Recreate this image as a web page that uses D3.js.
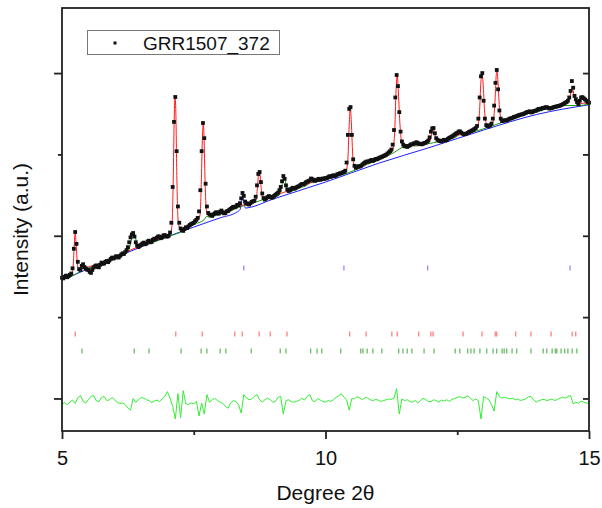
<!DOCTYPE html>
<html>
<head>
<meta charset="utf-8">
<script src="https://cdn.jsdelivr.net/npm/d3@7"></script>
<style>
  body { margin: 0; background: #fff; }
  svg text { font-family: "Liberation Sans", Arial, sans-serif; fill: #111; }
</style>
</head>
<body>
<div id="chart"></div>
<script>
// observed pattern on a regular 2theta grid (start, step)
var obsStart = 5, obsStep = 0.025;
var obsI = [
  // 5.0 - 5.475
  742, 738, 748, 755, 745, 752, 760, 768, 800, 920, 1023, 950, 840, 795, 790, 815, 825, 808, 800, 792,
  // 5.5
  790, 778, 772, 790, 805, 812, 818, 808, 806, 822, 835, 828, 830, 840, 845, 838, 848, 858, 866, 860,
  // 6.0
  865, 874, 872, 866, 876, 885, 892, 888, 900, 912, 930, 960, 990, 1008, 1017, 995, 960, 940, 930, 938,
  // 6.5
  945, 952, 958, 948, 952, 965, 970, 960, 962, 975, 982, 978, 988, 996, 995, 985, 990, 1002, 1004, 996,
  // 7.0
  995, 1000, 1020, 1080, 1300, 1700, 1853, 1520, 1180, 1080, 1045, 1035, 1030, 1042, 1052, 1048, 1058, 1066, 1072, 1076,
  // 7.5
  1080, 1090, 1098, 1110, 1150, 1280, 1520, 1693, 1600, 1320, 1180, 1140, 1130, 1128, 1122, 1132, 1138, 1145, 1140, 1136,
  // 8.0
  1148, 1155, 1145, 1138, 1140, 1150, 1152, 1160, 1165, 1172, 1178, 1175, 1180, 1190, 1188, 1200, 1230, 1263, 1245, 1210,
  // 8.5
  1200, 1196, 1192, 1200, 1208, 1212, 1215, 1240, 1310, 1380, 1392, 1330, 1260, 1232, 1222, 1230, 1238, 1244, 1240, 1234,
  // 9.0
  1236, 1245, 1252, 1258, 1265, 1280, 1300, 1335, 1367, 1350, 1310, 1285, 1275, 1280, 1288, 1295, 1290, 1292, 1298, 1302,
  // 9.5
  1305, 1312, 1318, 1316, 1320, 1328, 1332, 1336, 1340, 1352, 1348, 1342, 1338, 1342, 1346, 1350, 1344, 1348, 1352, 1350,
  // 10.0
  1355, 1352, 1360, 1366, 1362, 1368, 1372, 1368, 1370, 1378, 1380, 1384, 1385, 1390, 1392, 1400, 1450, 1620, 1780, 1791,
  // 10.5
  1620, 1470, 1430, 1418, 1422, 1428, 1425, 1430, 1438, 1445, 1450, 1456, 1455, 1458, 1462, 1466, 1460, 1465, 1472, 1470,
  // 11.0
  1475, 1480, 1482, 1486, 1490, 1494, 1498, 1505, 1512, 1520, 1530, 1560, 1650, 1850, 1988, 1920, 1760, 1640, 1580, 1560,
  // 11.5
  1550, 1552, 1546, 1552, 1556, 1562, 1562, 1568, 1568, 1575, 1570, 1564, 1566, 1562, 1565, 1570, 1572, 1578, 1585, 1605,
  // 12.0
  1640, 1660, 1662, 1630, 1600, 1590, 1585, 1582, 1580, 1585, 1590, 1586, 1588, 1596, 1602, 1606, 1610, 1616, 1622, 1628,
  // 12.5
  1632, 1640, 1642, 1634, 1628, 1624, 1625, 1628, 1632, 1638, 1642, 1646, 1650, 1656, 1662, 1675, 1720, 1850, 1980, 2000,
  // 13.0
  1830, 1720, 1680, 1674, 1672, 1680, 1690, 1720, 1800, 1940, 2019, 1900, 1770, 1720, 1705, 1708, 1710, 1708, 1712, 1716,
  // 13.5
  1720, 1722, 1725, 1730, 1732, 1735, 1738, 1742, 1744, 1746, 1748, 1752, 1756, 1760, 1762, 1765, 1758, 1760, 1766, 1768,
  // 14.0
  1770, 1776, 1780, 1778, 1782, 1786, 1786, 1790, 1790, 1786, 1782, 1784, 1786, 1790, 1792, 1794, 1796, 1798, 1800, 1804,
  // 14.5
  1808, 1812, 1818, 1822, 1830, 1850, 1890, 1951, 1910, 1860, 1840, 1822, 1810, 1830, 1850, 1852, 1845, 1838, 1830, 1822,
  // 15.0
  1818
];

// observed - calculated (start, step)
var diffStart = 5, diffStep = 0.05;
var diffI = [
  -18, -8, -20, -5, 8, -12, 22, 36, 0, -10,
  10, 30, 36, 5, -2, 25, 30, 5, 10, 24,
  10, -8, -12, -10, -20, -40, -54, 18, -5, 10,
  24, 20, 10, 5, -8, 2, 8, 0, 15, 30,
  60, 20, -30, -108, 48, -100, 66, -15, -18, -10,
  -15, 0, -90, -10, -78, 42, -5, 10, 18, 5,
  -5, -12, -30, -42, -10, 5, 0, -20, -72, 42,
  20, 10, 15, 30, 42, 10, -5, 10, 20, 10,
  -5, 0, 25, 30, -78, 5, 10, -2, -5, 0,
  5, 20, 8, 30, 42, 5, -2, 18, 8, 0,
  -5, 5, 0, 10, 25, 35, 48, 25, 10, -54,
  18, 15, 30, 20, 10, 24, 20, 10, 5, 12,
  8, 0, 5, 10, 15, 12, 20, 78, -78, 15,
  5, 10, 0, -5, 5, -10, 5, 18, 12, 0,
  -2, 10, 5, -5, 8, 2, 10, 0, 12, 18,
  24, 30, 20, 25, 35, 20, 5, 15, 5, -108,
  30, 20, 10, -20, -60, 60, 30, 20, 25, 20,
  15, 20, 10, 15, 5, 10, 15, 28, 30, 10,
  -5, 5, 10, 12, 5, 10, 15, 5, 12, 20,
  25, 20, 30, 36, -15, -5, -12, 2, -5, -10,
  -12
];

// calculated profile, main phase (red)
var calcRed = [
  [5.00, 738], [5.10, 750], [5.18, 764], [5.21, 805], [5.23, 930], [5.25, 1015], [5.27, 940],
  [5.29, 835], [5.32, 790], [5.40, 800], [5.50, 808], [5.60, 818], [5.70, 828], [5.80, 840],
  [5.90, 852], [6.00, 866], [6.10, 880], [6.20, 895], [6.30, 912], [6.40, 926], [6.50, 940],
  [6.60, 952], [6.70, 962], [6.80, 975], [6.90, 988], [7.00, 998], [7.06, 1014], [7.09, 1080],
  [7.11, 1330], [7.13, 1730], [7.145, 1853], [7.16, 1760], [7.18, 1350], [7.20, 1110],
  [7.23, 1052], [7.30, 1034], [7.40, 1052], [7.50, 1074], [7.58, 1097], [7.62, 1130],
  [7.645, 1350], [7.665, 1610], [7.68, 1690], [7.695, 1610], [7.715, 1330], [7.74, 1160],
  [7.78, 1125], [7.90, 1128], [8.00, 1136], [8.10, 1145], [8.20, 1160], [8.30, 1174],
  [8.40, 1185], [8.50, 1195], [8.60, 1204], [8.68, 1218], [8.71, 1300], [8.73, 1380],
  [8.745, 1392], [8.76, 1370], [8.78, 1290], [8.81, 1230], [8.90, 1230], [9.00, 1240],
  [9.10, 1254], [9.20, 1266], [9.30, 1276], [9.40, 1286], [9.50, 1298], [9.60, 1311],
  [9.70, 1323], [9.80, 1334], [9.90, 1342], [10.00, 1350], [10.10, 1358], [10.20, 1367],
  [10.30, 1377], [10.38, 1387], [10.42, 1450], [10.45, 1680], [10.47, 1791], [10.49, 1700],
  [10.52, 1480], [10.56, 1414], [10.60, 1414], [10.70, 1428], [10.80, 1445], [10.90, 1458],
  [11.00, 1469], [11.10, 1483], [11.20, 1502], [11.27, 1522], [11.31, 1620], [11.34, 1900],
  [11.36, 1988], [11.38, 1900], [11.41, 1700], [11.44, 1585], [11.48, 1555], [11.60, 1552],
  [11.70, 1558], [11.80, 1563], [11.90, 1568], [11.98, 1582], [12.01, 1620], [12.04, 1662],
  [12.07, 1630], [12.10, 1594], [12.15, 1582], [12.30, 1590], [12.40, 1603], [12.50, 1617],
  [12.60, 1624], [12.70, 1630], [12.80, 1642], [12.88, 1662], [12.92, 1750], [12.95, 1950],
  [12.97, 2000], [12.99, 1940], [13.02, 1760], [13.06, 1682], [13.12, 1673], [13.18, 1702],
  [13.22, 1850], [13.24, 1990], [13.255, 2019], [13.27, 1960], [13.30, 1790], [13.34, 1712],
  [13.40, 1707], [13.50, 1717], [13.60, 1730], [13.70, 1742], [13.80, 1754], [13.90, 1762],
  [14.00, 1770], [14.10, 1780], [14.20, 1787], [14.30, 1788], [14.40, 1794], [14.50, 1806],
  [14.58, 1819], [14.63, 1840], [14.66, 1890], [14.68, 1914], [14.70, 1890], [14.73, 1832],
  [14.78, 1805], [14.85, 1812], [14.95, 1816], [15.00, 1816]
];

// second phase (green)
var calcGreen = [
  [5.00, 733], [5.30, 772], [5.35, 784], [5.38, 812], [5.41, 796], [5.46, 798], [5.60, 812],
  [5.80, 834], [6.00, 860], [6.20, 889], [6.26, 905], [6.30, 950], [6.34, 1005], [6.37, 1012],
  [6.40, 980], [6.44, 932], [6.50, 935], [6.70, 957], [7.00, 993], [7.30, 1029], [7.50, 1069],
  [7.70, 1100], [7.73, 1115], [7.75, 1120], [7.78, 1114], [7.90, 1123], [8.00, 1131],
  [8.20, 1155], [8.40, 1180], [8.60, 1199], [8.80, 1220], [9.00, 1235], [9.12, 1250],
  [9.17, 1295], [9.20, 1360], [9.23, 1345], [9.27, 1282], [9.32, 1272], [9.50, 1293],
  [9.68, 1318], [9.72, 1340], [9.76, 1326], [9.90, 1337], [10.10, 1353], [10.30, 1372],
  [10.60, 1409], [10.80, 1440], [11.00, 1464], [11.30, 1512], [11.50, 1546], [11.60, 1547],
  [11.64, 1558], [11.70, 1552], [11.90, 1563], [12.20, 1582], [12.40, 1598], [12.50, 1612],
  [12.55, 1630], [12.60, 1619], [12.80, 1637], [13.10, 1668], [13.40, 1702], [13.70, 1737],
  [13.87, 1755], [13.91, 1770], [13.95, 1758], [14.20, 1782], [14.50, 1801], [14.80, 1800],
  [15.00, 1811]
];

// background + third phase (blue)
var calcBlue = [
  [5, 728], [6, 865], [7, 995], [8, 1110], [8.33, 1148], [8.38, 1162], [8.41, 1215],
  [8.43, 1258], [8.45, 1215], [8.48, 1170], [8.53, 1172], [9, 1225], [10, 1330], [11, 1445],
  [12, 1545], [13, 1650], [14, 1745], [15, 1805]
];

// reflection positions per phase
var tickBlue = [8.45, 10.35, 11.94, 14.64];
var tickRed = [5.25, 7.16, 7.66, 8.28, 8.42, 8.74, 8.95, 9.27, 10.46, 10.77, 11.26, 11.36,
  11.77, 12.00, 12.04, 12.61, 12.97, 13.22, 13.25, 13.61, 13.90, 14.28, 14.68, 14.75];
var tickGreen = [5.38, 6.37, 6.65, 7.26, 7.64, 7.75, 8.00, 8.11, 8.59, 9.14, 9.25, 9.72,
  9.84, 9.93, 10.29, 10.67, 10.71, 10.79, 10.90, 11.07, 11.39, 11.47, 11.55, 11.64, 11.87,
  12.06, 12.46, 12.55, 12.70, 12.76, 12.82, 12.93, 13.06, 13.18, 13.25, 13.35, 13.39, 13.44,
  13.54, 13.63, 13.90, 14.13, 14.20, 14.30, 14.36, 14.39, 14.47, 14.54, 14.60, 14.68, 14.77];

var xMajor = [5, 10, 15], xMinor = [7.5, 12.5];
var yMajor = [0, 1000, 2000], yMinor = [500, 1500];
var legendLabel = "GRR1507_372";

var W = 602, H = 508;
var margin = {top: 8, right: 13, bottom: 77, left: 62};
var x0 = margin.left, x1 = W - margin.right,
    y0 = margin.top, y1 = H - margin.bottom;
var diffBase = -18;

var x = d3.scaleLinear().domain([5, 15]).range([x0, x1]);
var y = d3.scaleLinear().domain([-200, 2400]).range([y1, y0]);

var svg = d3.select("#chart").append("svg")
    .attr("width", W)
    .attr("height", H);

var obs = obsI.map(function(v, i) { return [obsStart + i * obsStep, v]; });
var diff = diffI.map(function(v, i) { return [diffStart + i * diffStep, v]; });

var curve = d3.line()
    .x(function(d) { return x(d[0]); })
    .y(function(d) { return y(d[1]); })
    .curve(d3.curveMonotoneX);

var plot = svg.append("g");

// phase curves
plot.append("path").datum(calcBlue)
    .attr("d", curve).attr("fill", "none").attr("stroke", "#2020ff").attr("stroke-width", 1);
plot.append("path").datum(calcGreen)
    .attr("d", curve).attr("fill", "none").attr("stroke", "#1a9a1a").attr("stroke-width", 1);
plot.append("path").datum(calcRed)
    .attr("d", curve).attr("fill", "none").attr("stroke", "#ff1a1a").attr("stroke-width", 1);

// observed points
plot.selectAll("rect.obs").data(obs).enter().append("rect")
    .attr("class", "obs")
    .attr("x", function(d) { return x(d[0]) - 1.9; })
    .attr("y", function(d) { return y(d[1]) - 1.9; })
    .attr("width", 3.8)
    .attr("height", 3.8)
    .attr("fill", "#111");

// difference curve
plot.append("path").datum(diff)
    .attr("d", d3.line()
        .x(function(d) { return x(d[0]); })
        .y(function(d) { return y(diffBase + d[1]); }))
    .attr("fill", "none").attr("stroke", "#33ee33").attr("stroke-width", 1);

// reflection markers
function markers(list, yc, color) {
    plot.selectAll(null).data(list).enter().append("line")
        .attr("x1", function(d) { return x(d); })
        .attr("x2", function(d) { return x(d); })
        .attr("y1", yc - 2.5)
        .attr("y2", yc + 2.5)
        .attr("stroke", color)
        .attr("stroke-width", 1);
}
markers(tickBlue, 268, "#6a6aff");
markers(tickRed, 334, "#ff5a5a");
markers(tickGreen, 351, "#3aa83a");

// axes
var axisColor = "#222";
var xAx = svg.append("g").attr("transform", "translate(0," + y1 + ")")
    .call(d3.axisBottom(x).tickValues(xMajor).tickSize(8).tickPadding(12).tickFormat(d3.format("d")));
svg.append("g").attr("transform", "translate(0," + y1 + ")")
    .call(d3.axisBottom(x).tickValues(xMinor).tickSize(4).tickFormat(""));
svg.append("g").attr("transform", "translate(" + x0 + ",0)")
    .call(d3.axisLeft(y).tickValues(yMajor).tickSize(8).tickFormat(""));
svg.append("g").attr("transform", "translate(" + x0 + ",0)")
    .call(d3.axisLeft(y).tickValues(yMinor).tickSize(4).tickFormat(""));
svg.append("g").attr("transform", "translate(" + x1 + ",0)")
    .call(d3.axisLeft(y).tickValues(yMajor.concat(yMinor)).tickSize(6).tickFormat(""));

svg.selectAll(".domain").remove();
svg.selectAll(".tick line").attr("stroke", axisColor).attr("stroke-width", 1.8);
xAx.selectAll("text").style("font-size", "20px").attr("fill", "#111");

svg.append("rect")
    .attr("x", x0).attr("y", y0)
    .attr("width", x1 - x0).attr("height", y1 - y0)
    .attr("fill", "none").attr("stroke", axisColor).attr("stroke-width", 1.8);

// axis titles
svg.append("text")
    .attr("x", (x0 + x1) / 2)
    .attr("y", 500)
    .attr("text-anchor", "middle")
    .style("font-size", "21px")
    .text("Degree 2\u03b8");

svg.append("text")
    .attr("transform", "translate(28," + ((y0 + y1) / 2 + 10) + ") rotate(-90)")
    .attr("text-anchor", "middle")
    .style("font-size", "21px")
    .text("Intensity (a.u.)");

// legend
var lg = svg.append("g");
lg.append("rect")
    .attr("x", 87.5).attr("y", 30.5).attr("width", 192).attr("height", 24)
    .attr("fill", "#fff").attr("stroke", "#777").attr("stroke-width", 1);
lg.append("rect")
    .attr("x", 113.5).attr("y", 41.5).attr("width", 3).attr("height", 3).attr("fill", "#111");
lg.append("text")
    .attr("x", 143).attr("y", 49.5)
    .style("font-size", "19px")
    .text(legendLabel);
</script>
</body>
</html>
